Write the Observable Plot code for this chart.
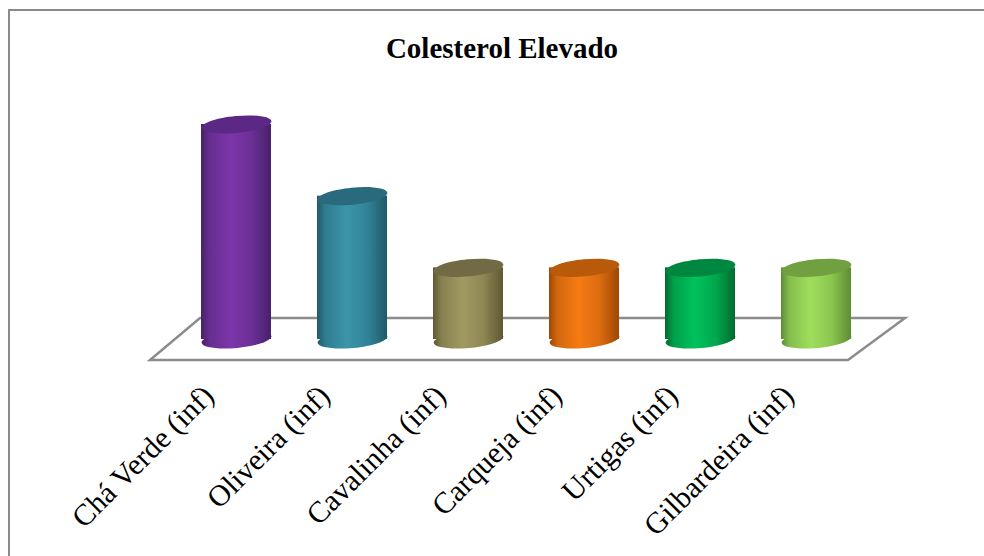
<!DOCTYPE html>
<html>
<head>
<meta charset="utf-8">
<script src="https://cdn.jsdelivr.net/npm/d3@7"></script>
<script src="https://cdn.jsdelivr.net/npm/@observablehq/plot@0.6"></script>
<style>
  html, body { margin: 0; padding: 0; background: #fff; }
  #wrap { position: relative; width: 984px; height: 556px; overflow: hidden; }
  #frame { position: absolute; left: 8px; top: 9px; width: 1000px; height: 600px;
           border-top: 2px solid #8a8a8a; border-left: 2px solid #8a8a8a; box-sizing: border-box; }
  #title { position: absolute; left: 0; width: 1004px; top: 34px; text-align: center;
           font: bold 29px/1 "Liberation Serif", "Times New Roman", serif; color: #000; }
  #chart { position: absolute; left: 0; top: 0; }
</style>
</head>
<body>
<div id="wrap">
  <div id="frame"></div>
  <div id="chart"></div>
  <div id="title">Colesterol Elevado</div>
</div>
<script>
// ---- data ----
const categories = ["Chá Verde (inf)", "Oliveira (inf)", "Cavalinha (inf)", "Carqueja (inf)", "Urtigas (inf)", "Gilbardeira (inf)"];
const values = [3, 2, 1, 1, 1, 1];

// ---- palette (style) ----
const bodyLight = ["#7c36aa", "#3b95aa", "#a29a62", "#f67b14", "#00c25c", "#9fde5c"];
const bodyDark  = ["#48206a", "#1e5a69", "#5f5833", "#9e4805", "#006b2e", "#5d8d33"];
const topColor  = ["#5b2886", "#296a7c", "#716a44", "#b9590a", "#00873f", "#70a03f"];

const data = categories.map((c, i) => ({cat: c, value: values[i], i}));

// gradient definitions
function defsMark() {
  const ns = "http://www.w3.org/2000/svg";
  const defs = document.createElementNS(ns, "defs");
  bodyLight.forEach((light, i) => {
    const g = document.createElementNS(ns, "linearGradient");
    g.setAttribute("id", "grad" + i);
    g.setAttribute("x1", "0"); g.setAttribute("x2", "1");
    g.setAttribute("y1", "0"); g.setAttribute("y2", "0");
    const mid = d3.interpolateRgb(bodyDark[i], light);
    [[0, bodyDark[i]], [0.12, mid(0.6)], [0.42, light], [0.72, mid(0.7)], [1, bodyDark[i]]].forEach(([o, c]) => {
      const s = document.createElementNS(ns, "stop");
      s.setAttribute("offset", o);
      s.setAttribute("stop-color", c);
      g.appendChild(s);
    });
    defs.appendChild(g);
  });
  return defs;
}

// floor parallelogram, drawn from the frame dimensions and the y scale
function floorMark(index, scales, values, dims) {
  const ns = "http://www.w3.org/2000/svg";
  const x0 = dims.marginLeft, x1 = dims.width - dims.marginRight;
  const y0 = scales.y(0);
  const p = document.createElementNS(ns, "path");
  const pts = [[x0 - 26, y0 + 21], [x1 - 27, y0 + 21], [x1 + 30, y0 - 21], [x0 + 24, y0 - 21]];
  p.setAttribute("d", "M" + pts.map(q => q.join(",")).join("L") + "Z");
  p.setAttribute("fill", "#fff");
  p.setAttribute("stroke", "#8c8c8c");
  p.setAttribute("stroke-width", "2.5");
  p.setAttribute("stroke-linejoin", "miter");
  return p;
}

// tilted ellipse symbol for the cylinder caps
function ellipseSymbol(rx, ry, angleDeg) {
  const a = angleDeg * Math.PI / 180, ca = Math.cos(a), sa = Math.sin(a), k = 0.5523;
  const R = (x, y) => [x * ca - y * sa, x * sa + y * ca];
  return {
    draw(ctx) {
      const P = [
        [R(rx, 0)], [R(rx, ry * k), R(rx * k, ry), R(0, ry)],
        [R(-rx * k, ry), R(-rx, ry * k), R(-rx, 0)],
        [R(-rx, -ry * k), R(-rx * k, -ry), R(0, -ry)],
        [R(rx * k, -ry), R(rx, -ry * k), R(rx, 0)]
      ];
      ctx.moveTo(...P[0][0]);
      for (let j = 1; j < 5; j++) ctx.bezierCurveTo(...P[j][0], ...P[j][1], ...P[j][2]);
      ctx.closePath();
    }
  };
}
const cap = ellipseSymbol(35, 8.5, -5.5);

const chart = Plot.plot({
  width: 984,
  height: 556,
  marginLeft: 176,
  marginRight: 109,
  marginTop: 124,
  marginBottom: 217,
  style: {fontFamily: "'Liberation Serif', 'Times New Roman', serif", background: "transparent", color: "#000"},
  x: {domain: categories, paddingInner: 0.4, paddingOuter: 0.2, axis: null},
  y: {domain: [0, 3], axis: null},
  color: {type: "identity"},
  marks: [
    defsMark,
    floorMark,
    Plot.dot(data, {x: "cat", y: () => 0, symbol: cap, r: 10, fill: d => `url(#grad${d.i})`, stroke: null}),
    Plot.barY(data, {x: "cat", y: "value", fill: d => `url(#grad${d.i})`}),
    Plot.dot(data, {x: "cat", y: "value", symbol: cap, r: 10, fill: d => topColor[d.i], stroke: null}),
    Plot.axisX({tickSize: 0, tickPadding: 0, tickRotate: -45, textAnchor: "end", lineAnchor: "top",
                dx: -36, dy: 43, fontSize: 30, fill: "#000", label: null})
  ]
});
document.getElementById("chart").appendChild(chart);
</script>
</body>
</html>
